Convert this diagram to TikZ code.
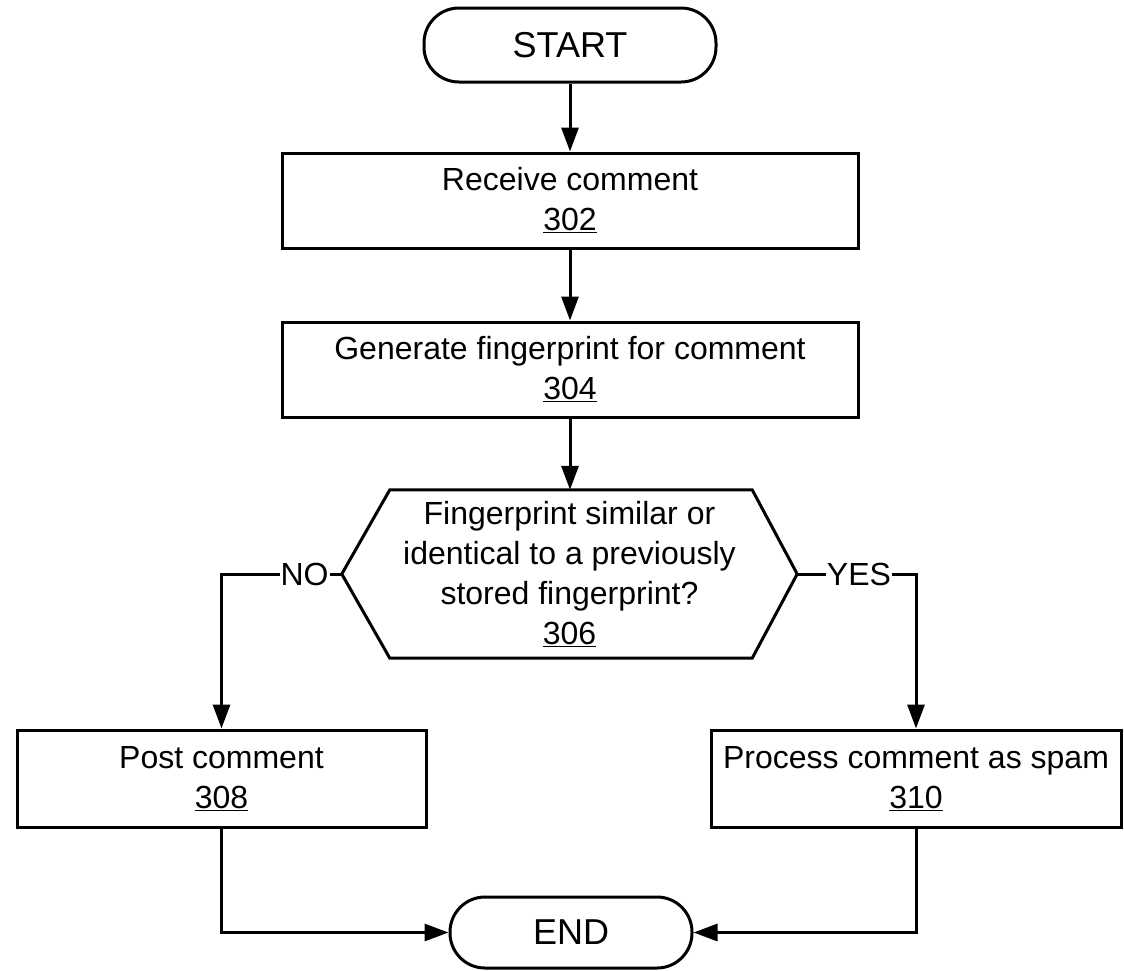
\documentclass[tikz,border=0pt]{standalone}
\usepackage{fontspec}
\setmainfont{Liberation Sans}
\usetikzlibrary{arrows.meta}
\begin{document}
\begin{tikzpicture}[x=1pt,y=-1pt,
  every node/.style={font=\fontsize{32}{40}\selectfont},
  box/.style={draw, line width=3pt, rectangle, align=center, inner sep=0pt},
  term/.style={draw, line width=3pt, rectangle, rounded corners=35pt, font=\fontsize{36}{40}\selectfont, inner sep=0pt},
  conn/.style={line width=3pt, -{Triangle[length=24pt,width=17pt]}},
  lbl/.style={fill=white, inner sep=1pt},
  hexa/.style={line width=3pt, line join=miter}
]
\useasboundingbox[fill=white] (0,0) rectangle (1124,970);
\node[term, minimum width=292pt, minimum height=74pt] (start) at (570,45) {START};
\node[box, minimum width=576pt, minimum height=95pt] (rec) at (570,200.5) {Receive comment\\\underline{302}};
\node[box, minimum width=576pt, minimum height=95pt] (gen) at (570,369.5) {Generate fingerprint for comment\\\underline{304}};
\node[align=center, minimum width=455pt, minimum height=168pt, inner sep=0pt] (dec) at (569.5,574) {Fingerprint similar or\\identical to a previously\\stored fingerprint?\\\underline{306}};
\draw[hexa] (dec.west) -- ([xshift=48pt]dec.north west) -- ([xshift=-45pt]dec.north east) -- (dec.east) -- ([xshift=-45pt]dec.south east) -- ([xshift=48pt]dec.south west) -- cycle;
\node[box, minimum width=409pt, minimum height=97pt] (post) at (221.5,778.5) {Post comment\\\underline{308}};
\node[box, minimum width=410pt, minimum height=97pt] (proc) at (916,778.5) {Process comment as spam\\\underline{310}};
\node[term, minimum width=242pt, minimum height=71pt] (end) at (571,932.5) {END};
\draw[conn] (start.south) -- (start.south |- rec.north);
\draw[conn] (rec.south) -- (rec.south |- gen.north);
\draw[conn] (gen.south) -- (gen.south |- dec.north);
\draw[conn] (dec.west) -| node[lbl,pos=0.155]{NO} (post.north);
\draw[conn] (dec.east) -| node[lbl,pos=0.26]{YES} (proc.north);
\draw[conn] (post.south) |- (end.west);
\draw[conn] (proc.south) |- (end.east);
\end{tikzpicture}
\end{document}
